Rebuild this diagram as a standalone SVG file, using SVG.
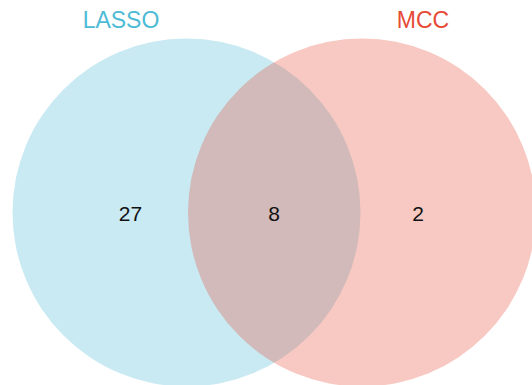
<svg xmlns="http://www.w3.org/2000/svg" width="532" height="385" viewBox="0 0 532 385">
<style>
.lbl{font-family:"Liberation Sans",Arial,sans-serif;font-size:23px;text-anchor:middle}
.num{font-family:"Liberation Sans",Arial,sans-serif;font-size:21px;text-anchor:middle;fill:#111}
</style>
<rect width="532" height="385" fill="#fff"/>
<g id="lasso">
<circle cx="186.5" cy="212.5" r="174" fill="#4DBBD5" fill-opacity="0.3"/>
<text class="lbl" x="121" y="27.5" fill="#4DBBD5">LASSO</text>
</g>
<g id="mcc">
<circle cx="362" cy="212.5" r="174" fill="#E64B35" fill-opacity="0.3"/>
<text class="lbl" x="423" y="27.5" fill="#E64B35">MCC</text>
</g>
<g id="counts">
<text class="num" x="130.5" y="221">27</text>
<text class="num" x="274" y="221">8</text>
<text class="num" x="418" y="221">2</text>
</g>
<g id="connectors"/>
</svg>
